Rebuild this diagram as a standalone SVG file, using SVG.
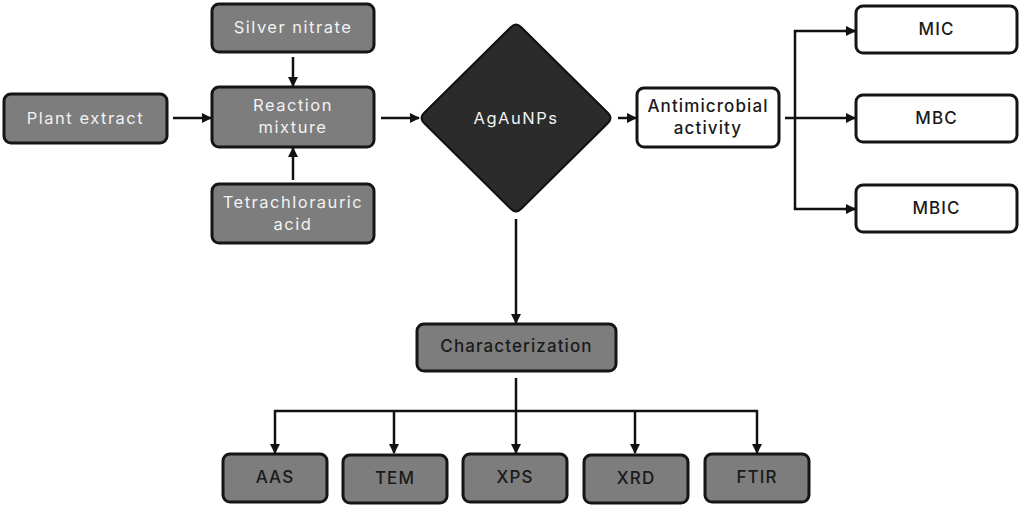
<svg xmlns="http://www.w3.org/2000/svg" width="1024" height="509" viewBox="0 0 1024 509">
<defs>
<style>
.g{fill:#7d7d7d;stroke:#151515;stroke-width:3}
.w{fill:#ffffff;stroke:#151515;stroke-width:3}
.t{font-family:Inter,"DejaVu Sans",sans-serif;font-size:16.5px;text-anchor:middle;letter-spacing:1.5px}
.lt{fill:#f2f2f2}
.dk{fill:#1a1a1a;font-weight:500;font-size:17px;letter-spacing:1.1px}
.c{fill:none;stroke:#111;stroke-width:2.5}
</style>
<marker id="ah" viewBox="0 0 10 10" refX="9" refY="5" markerWidth="4" markerHeight="4" orient="auto" markerUnits="strokeWidth">
<path d="M0,0 L10,5 L0,10 z" fill="#111"/>
</marker>
</defs>
<rect width="1024" height="509" fill="#ffffff"/>
<g id="connectors">
<line class="c" x1="293" y1="57" x2="293" y2="86" marker-end="url(#ah)"/>
<line class="c" x1="293" y1="180" x2="293" y2="148" marker-end="url(#ah)"/>
<line class="c" x1="173" y1="118" x2="211" y2="118" marker-end="url(#ah)"/>
<line class="c" x1="381" y1="118" x2="419" y2="118" marker-end="url(#ah)"/>
<line class="c" x1="618" y1="118" x2="636" y2="118" marker-end="url(#ah)"/>
<line class="c" x1="785" y1="118" x2="855" y2="118" marker-end="url(#ah)"/>
<polyline class="c" points="855,31 795,31 795,209 855,209"/>
<line class="c" x1="845" y1="31" x2="855" y2="31" marker-end="url(#ah)"/>
<line class="c" x1="845" y1="209" x2="855" y2="209" marker-end="url(#ah)"/>
<line class="c" x1="516" y1="219" x2="516" y2="323" marker-end="url(#ah)"/>
<line class="c" x1="516" y1="378" x2="516" y2="453" marker-end="url(#ah)"/>
<line class="c" x1="274" y1="411" x2="758" y2="411"/>
<line class="c" x1="275" y1="410" x2="275" y2="453" marker-end="url(#ah)"/>
<line class="c" x1="394" y1="410" x2="394" y2="453" marker-end="url(#ah)"/>
<line class="c" x1="635" y1="410" x2="635" y2="453" marker-end="url(#ah)"/>
<line class="c" x1="757" y1="410" x2="757" y2="453" marker-end="url(#ah)"/>
</g>
<g id="silver-nitrate"><rect class="g" x="212" y="4" width="162" height="48" rx="7"/><text class="t lt" x="293" y="33">Silver nitrate</text></g>
<g id="plant-extract"><rect class="g" x="4" y="94" width="163" height="49" rx="7"/><text class="t lt" x="85.5" y="124">Plant extract</text></g>
<g id="reaction-mixture"><rect class="g" x="212" y="87" width="162" height="60" rx="7"/><text class="t lt" x="293" y="111">Reaction</text><text class="t lt" x="293" y="133">mixture</text></g>
<g id="tetrachlorauric-acid"><rect class="g" x="212" y="184" width="162" height="59" rx="7"/><text class="t lt" x="293" y="208">Tetrachlorauric</text><text class="t lt" x="293" y="230">acid</text></g>
<g id="agaunps"><path d="M511,27 Q516,22 521,27 L608,113 Q613,118 608,123 L521,209 Q516,214 511,209 L424,123 Q419,118 424,113 Z" fill="#2b2b2b" stroke="#111" stroke-width="2"/><text class="t lt" x="516" y="124">AgAuNPs</text></g>
<g id="antimicrobial-activity"><rect class="w" x="637" y="88" width="142" height="59" rx="7"/><text class="t dk" x="708" y="112">Antimicrobial</text><text class="t dk" x="708" y="134">activity</text></g>
<g id="mic"><rect class="w" x="856" y="6" width="161" height="47" rx="7"/><text class="t dk" x="936.5" y="35">MIC</text></g>
<g id="mbc"><rect class="w" x="856" y="95" width="161" height="47" rx="7"/><text class="t dk" x="936.5" y="124">MBC</text></g>
<g id="mbic"><rect class="w" x="856" y="185" width="161" height="47" rx="7"/><text class="t dk" x="936.5" y="214">MBIC</text></g>
<g id="characterization"><rect class="g" x="417" y="324" width="199" height="47" rx="7"/><text class="t dk" x="516.5" y="352">Characterization</text></g>
<g id="aas"><rect class="g" x="223" y="454" width="104" height="48" rx="7"/><text class="t dk" x="275" y="483">AAS</text></g>
<g id="tem"><rect class="g" x="343" y="455" width="104" height="48" rx="7"/><text class="t dk" x="395" y="484">TEM</text></g>
<g id="xps"><rect class="g" x="463" y="454" width="104" height="48" rx="7"/><text class="t dk" x="515" y="483">XPS</text></g>
<g id="xrd"><rect class="g" x="584" y="455" width="104" height="48" rx="7"/><text class="t dk" x="636" y="484">XRD</text></g>
<g id="ftir"><rect class="g" x="705" y="454" width="104" height="48" rx="7"/><text class="t dk" x="757" y="483">FTIR</text></g>
</svg>
